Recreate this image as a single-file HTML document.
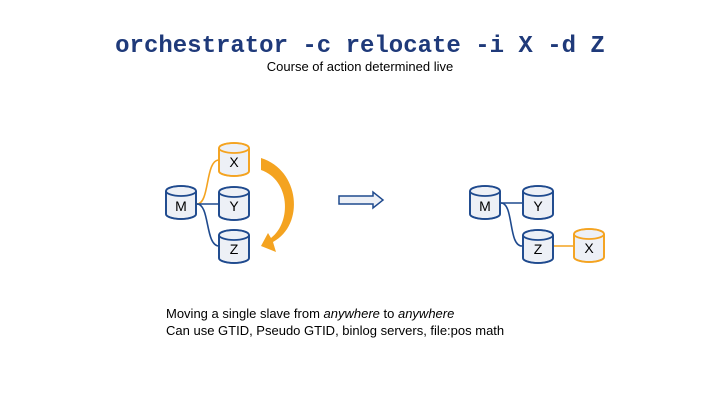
<html><head><style>body{margin:0;background:#fff}</style></head><body>
<svg width="720" height="405" xmlns="http://www.w3.org/2000/svg" font-family="Liberation Sans, sans-serif">
<defs>
<g id="cyl"><path d="M0,5 A15,5 0 0 1 30,5 L30,28 A15,5 0 0 1 0,28 Z" fill="#edf0f6"/><ellipse cx="15" cy="5" rx="15" ry="5" fill="none"/><path d="M0,5 L0,28 A15,5 0 0 0 30,28 L30,5" fill="none"/></g>
</defs>
<text x="360" y="52" text-anchor="middle" font-family="Liberation Mono, monospace" font-weight="bold" font-size="24" fill="#1f3a7a">orchestrator -c relocate -i X -d Z</text>
<text x="360" y="71" text-anchor="middle" font-size="13" fill="#000">Course of action determined live</text>
<g fill="none" stroke-width="1.6">
<path d="M197,204 C210,204 205,160 219,160" stroke="#f4a320"/>
<path d="M197,204 L219,204" stroke="#1f4a8e"/>
<path d="M197,204 C210,204 205,246 219,246" stroke="#1f4a8e"/>
</g>
<g stroke="#f4a320" stroke-width="1.8"><use href="#cyl" x="219" y="143"/></g>
<g stroke="#1f4a8e" stroke-width="1.8"><use href="#cyl" x="166" y="186"/><use href="#cyl" x="219" y="187"/><use href="#cyl" x="219" y="230"/></g>
<g font-size="14" text-anchor="middle" fill="#000">
<text x="181" y="211">M</text><text x="234" y="167">X</text><text x="234" y="211">Y</text><text x="234" y="254">Z</text>
</g>
<path d="M261,158 C300,170 305,225 273,242 L276,252 L261,246 L268,233 L271,238 C292,222 290,180 261,170 Z" fill="#f4a320"/>
<path d="M339,196 L373,196 L373,192 L383,200 L373,208 L373,204 L339,204 Z" fill="#edf0f6" stroke="#1f4a8e" stroke-width="1.5"/>
<g fill="none" stroke-width="1.6">
<path d="M501,203 L522,203" stroke="#1f4a8e"/>
<path d="M501,203 C514,203 508,246 522,246" stroke="#1f4a8e"/>
<path d="M553,246 L573,246" stroke="#f4a320"/>
</g>
<g stroke="#1f4a8e" stroke-width="1.8"><use href="#cyl" x="470" y="186"/><use href="#cyl" x="523" y="186"/><use href="#cyl" x="523" y="230"/></g>
<g stroke="#f4a320" stroke-width="1.8"><use href="#cyl" x="574" y="229"/></g>
<g font-size="14" text-anchor="middle" fill="#000">
<text x="485" y="211">M</text><text x="538" y="211">Y</text><text x="538" y="254">Z</text><text x="589" y="253">X</text>
</g>
<text x="166" y="318" font-size="13">Moving a single slave from <tspan font-style="italic">anywhere</tspan> to <tspan font-style="italic">anywhere</tspan></text>
<text x="166" y="335" font-size="13">Can use GTID, Pseudo GTID, binlog servers, file:pos math</text>
</svg>
</body></html>
